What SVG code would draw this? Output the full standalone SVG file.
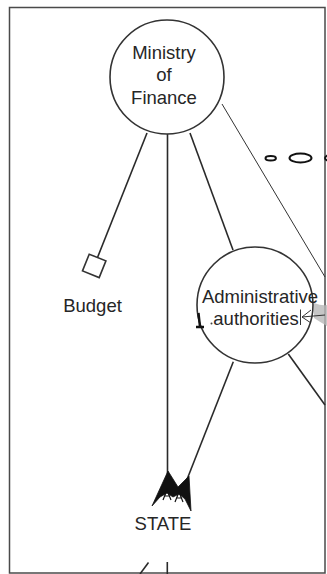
<svg xmlns="http://www.w3.org/2000/svg" width="327" height="574" viewBox="0 0 327 574">
<style>
  .frame { fill: none; stroke: #4a4a4a; stroke-width: 1.5; }
  .node { fill: #ffffff; stroke: #333333; stroke-width: 1.6; }
  .lbl { font-family: "Liberation Sans", Arial, sans-serif; font-size: 18.5px; fill: #262626; text-anchor: middle; }
  .edge { fill: none; stroke: #2a2a2a; stroke-width: 1.6; }
  .thin { fill: none; stroke: #333333; stroke-width: 1; }
  .head { fill: #111111; stroke: #111111; stroke-width: 0.8; stroke-linejoin: miter; }
  .blob { fill: none; stroke: #111111; stroke-width: 2; }
</style>
<rect width="327" height="574" fill="#ffffff"/>
<rect class="frame" x="9.5" y="7.5" width="315.5" height="565.5"/>

<g id="connectors">
  <line class="edge" x1="147" y1="133" x2="97.5" y2="257.5"/>
  <line class="edge" x1="167.5" y1="134" x2="167.5" y2="480"/>
  <line class="edge" x1="190" y1="133" x2="233" y2="250"/>
  <line class="thin" x1="222" y1="104" x2="325" y2="277"/>
  <line class="edge" x1="233.3" y1="361.7" x2="186" y2="482"/>
  <line class="edge" x1="288.3" y1="354" x2="325" y2="405"/>
  <path class="head" d="M152,506 L168,471 L178,487 L189,476 L191,511 L185,499 L179,494 L173,497 L167,493 L160,497 Z"/>
  <path d="M163,500 L167,490 L171,500 M164,496 L170,496 M175,502 L179,492 L183,502 M176,498 L182,498" fill="none" stroke="#111" stroke-width="1.2"/>
  <line class="edge" x1="140" y1="574" x2="148.5" y2="562.5"/>
  <line class="edge" x1="167.3" y1="562" x2="167.3" y2="574"/>
</g>

<g id="ministry">
  <circle class="node" cx="167" cy="77" r="57"/>
  <text class="lbl" x="164" y="58.5">Ministry</text>
  <text class="lbl" x="164" y="81">of</text>
  <text class="lbl" x="164" y="103.5">Finance</text>
</g>

<g id="budget">
  <rect class="node" x="85.2" y="256.9" width="18" height="18" transform="rotate(22 94.2 265.9)"/>
  <text class="lbl" x="92.5" y="312">Budget</text>
</g>

<g id="admin">
  <circle class="node" cx="255" cy="305" r="58"/>
  <path d="M314,303 Q322,306 327,305 L327,326 Q320,322 314,318 Z" fill="#b8b8b8" opacity="0.8"/>
  <text class="lbl" x="260" y="302.5">Administrative</text>
  <text class="lbl" x="256" y="325">authorities</text>
</g>

<g id="admin-marks">
  <line class="thin" x1="325" y1="315" x2="302" y2="317"/>
  <path class="thin" d="M311,310 L302,317 L311,323 M300.5,309.5 L300.5,325" stroke-width="1.3"/>
  <path d="M198.5,313 L200,327 M196,327 L204,327" fill="none" stroke="#111" stroke-width="2.4"/>
  <circle cx="211.5" cy="323.5" r="1" fill="#444"/>
</g>

<g id="state">
  <text class="lbl" x="163" y="530">STATE</text>
</g>

<g id="ellipses">
  <ellipse class="blob" cx="270.7" cy="158.3" rx="5.2" ry="2.3"/>
  <ellipse class="blob" cx="300.5" cy="158" rx="11" ry="4.5"/>
  <ellipse class="blob" cx="337" cy="158" rx="12" ry="4.5"/>
</g>
</svg>
